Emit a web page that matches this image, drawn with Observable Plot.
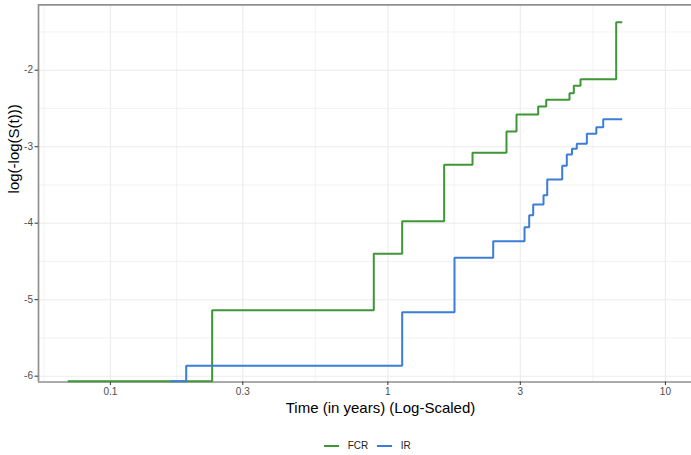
<!DOCTYPE html>
<html>
<head>
<meta charset="utf-8">
<script src="https://cdn.jsdelivr.net/npm/d3@7"></script>
<script src="https://cdn.jsdelivr.net/npm/@observablehq/plot@0.6"></script>
<style>
  html, body { margin: 0; padding: 0; background: #fff; }
  #clip { width: 691px; height: 455px; overflow: hidden; }
  #chart { width: 735px; }
  .legend {
    width: 735px; height: 30px; box-sizing: border-box; padding-top: 11px;
    display: flex; justify-content: center; align-items: center;
    font-family: "Liberation Sans", Arial, sans-serif; font-size: 10px; color: #222; line-height: 14px;
  }
  .legend .key { display: inline-block; width: 15px; height: 2px; margin-right: 8.5px; }
  .legend .lab { margin-right: 9px; }
  .legend .lab:last-child { margin-right: 0; }
</style>
</head>
<body>
<div id="clip"><div id="chart"></div></div>
<script>
// Complementary log-log survival curves: log(-log(S(t))) against time (log scale)
const groups = ["FCR", "IR"];
const colors = ["#3f9636", "#3b7dd8"];

const fcrTime  = [0.0702, 0.2327, 0.8896, 1.126, 1.595, 2.018, 2.675, 2.907, 3.480, 3.720, 4.512, 4.677, 4.944, 6.648, 6.988];
const fcrValue = [-6.065, -5.137, -4.400, -3.974, -3.237, -3.080, -2.801, -2.579, -2.475, -2.387, -2.301, -2.204, -2.118, -1.373, -1.373];

const irTime  = [0.1646, 0.1876, 1.126, 1.738, 2.396, 3.107, 3.230, 3.339, 3.637, 3.751, 4.248, 4.413, 4.607, 4.794, 5.211, 5.637, 5.970, 6.988];
const irValue = [-6.065, -5.864, -5.163, -4.452, -4.235, -4.052, -3.895, -3.756, -3.634, -3.429, -3.250, -3.102, -3.027, -2.962, -2.831, -2.745, -2.640, -2.640];

const xBreaks = [0.1, 0.3, 1, 3, 10];
const xMinorBreaks = [0.0577, 0.1732, 0.5477, 1.732, 5.477];
const yBreaks = [-6, -5, -4, -3, -2];
const yMinorBreaks = [-5.5, -4.5, -3.5, -2.5, -1.5];

const xDomain = [0.05508, 16.06];
const yDomain = [-6.076, -1.145];

const xTitle = "Time (in years) (Log-Scaled)";
const yTitle = "log(-log(S(t)))";

const rows = [
  ...fcrTime.map((t, i) => ({series: "FCR", time: t, value: fcrValue[i]})),
  ...irTime.map((t, i) => ({series: "IR", time: t, value: irValue[i]}))
];

const plot = Plot.plot({
  width: 735,
  height: 425,
  marginLeft: 38,
  marginRight: 13,
  marginTop: 4.3,
  marginBottom: 43.5,
  style: {fontFamily: "'Liberation Sans', Arial, sans-serif", fontSize: "10px", background: "#fff"},
  x: {type: "log", domain: xDomain},
  y: {domain: yDomain},
  color: {domain: groups, range: colors},
  marks: [
    Plot.ruleX(xMinorBreaks, {stroke: "#ebebeb", strokeWidth: 0.6}),
    Plot.ruleY(yMinorBreaks, {stroke: "#ebebeb", strokeWidth: 0.6}),
    Plot.ruleX(xBreaks, {stroke: "#ebebeb", strokeWidth: 1.1}),
    Plot.ruleY(yBreaks, {stroke: "#ebebeb", strokeWidth: 1.1}),
    // panel border (top, bottom, left)
    Plot.ruleY([yDomain[0], yDomain[1]], {stroke: "#8f8f8f", strokeWidth: 1.7}),
    Plot.ruleX([xDomain[0]], {stroke: "#8f8f8f", strokeWidth: 1.7}),
    Plot.axisX(xBreaks, {tickFormat: d => String(d), tickSize: 3.5, tickPadding: 2, stroke: "#333", fill: "#4d4d4d", fontSize: 10, label: null}),
    Plot.axisY(yBreaks, {tickFormat: d => String(d), tickSize: 3.5, tickPadding: 2, stroke: "#333", fill: "#4d4d4d", fontSize: 10, label: null}),
    Plot.line(rows, {
      x: "time", y: "value", z: "series", stroke: "series",
      curve: "step-after", strokeWidth: 2, strokeLinejoin: "miter", strokeLinecap: "butt"
    }),
    Plot.text([xTitle], {text: d => d, frameAnchor: "bottom", dy: 26.5, fontSize: 15, fill: "#000", lineAnchor: "middle"}),
    Plot.text([yTitle], {text: d => d, frameAnchor: "left", dx: -24, rotate: -90, fontSize: 15, fill: "#000", lineAnchor: "middle"})
  ]
});

const chart = document.getElementById("chart");
chart.appendChild(plot);

const legend = document.createElement("div");
legend.className = "legend";
groups.forEach((g, i) => {
  const key = document.createElement("span");
  key.className = "key";
  key.style.background = colors[i];
  const lab = document.createElement("span");
  lab.className = "lab";
  lab.textContent = g;
  legend.appendChild(key);
  legend.appendChild(lab);
});
chart.appendChild(legend);
</script>
</body>
</html>
